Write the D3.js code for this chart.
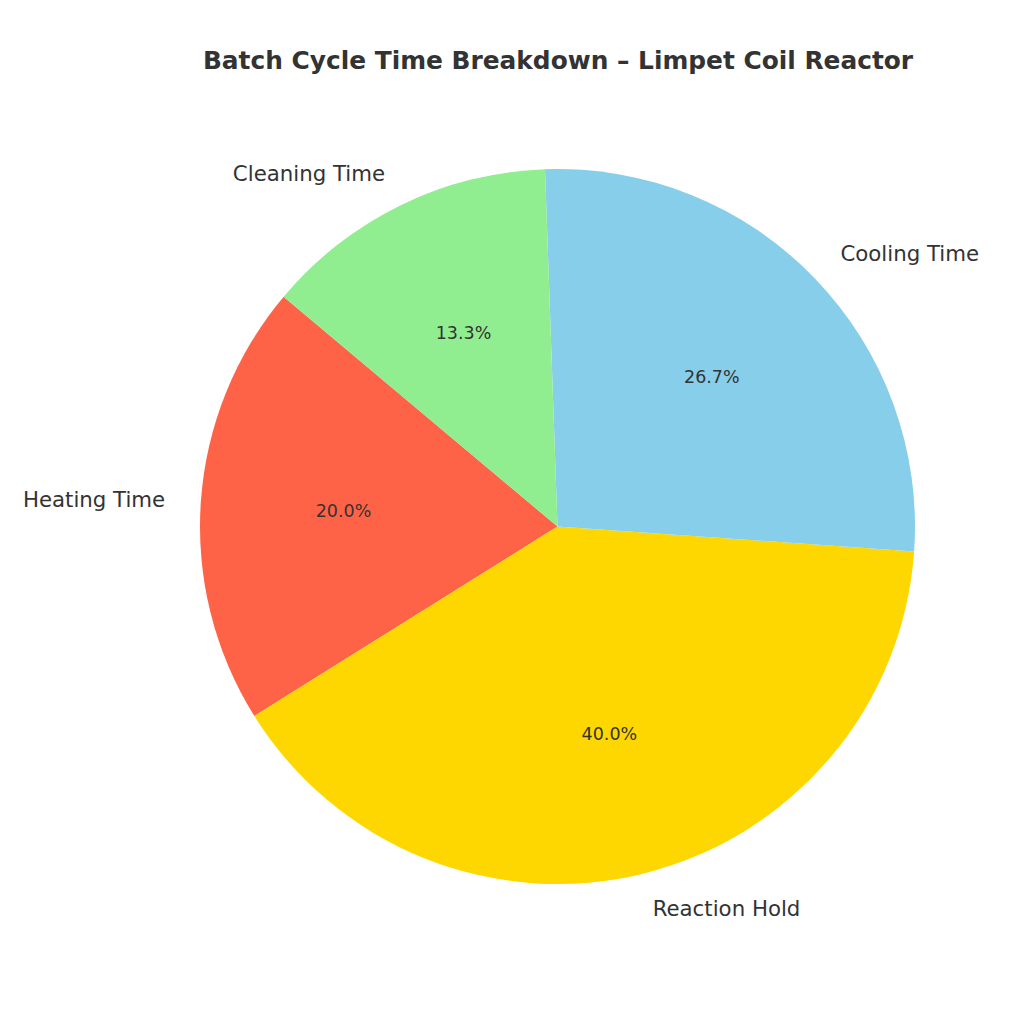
<!DOCTYPE html>
<html>
<head>
<meta charset="utf-8">
<script src="https://cdn.jsdelivr.net/npm/d3@7"></script>
<style>
  html, body { margin: 0; padding: 0; background: #ffffff; }
  text { font-family: 'DejaVu Sans', sans-serif; fill: #333333; }
</style>
</head>
<body>
<svg id="canvas" width="1024" height="1024"></svg>
<script>
// batch cycle in minutes
let categories = ['Heating Time', 'Reaction Hold', 'Cooling Time', 'Cleaning Time']
let minutes = [30, 60, 40, 20]
let sliceColors = ['#ff6347', '#ffd700', '#87ceeb', '#90ee90']

let cx = 557.5
let cy = 526.5
let radius = 357.5

let canvas = d3.select('#canvas')

// matplotlib style: start at 140 deg, counter clockwise
let toRad = (deg) => deg * Math.PI / 180
let pie = d3.pie()
            .sort(null)
            .value((d) => d.value)
            .startAngle(toRad(90 - 140))
            .endAngle(toRad(90 - 140 - 360))

let rows = categories.map((name, i) => {
  return { name: name, value: minutes[i], color: sliceColors[i] }
})
let total = d3.sum(minutes)

let arcs = pie(rows)

let arc = d3.arc()
            .innerRadius(0)
            .outerRadius(radius)

let chart = canvas.append('g')
                  .attr('transform', 'translate(' + cx + ', ' + cy + ')')

chart.selectAll('path')
     .data(arcs)
     .enter()
     .append('path')
     .attr('d', arc)
     .attr('fill', (d) => d.data.color)

let pointAt = (d, k) => {
  let a = (d.startAngle + d.endAngle) / 2
  return [Math.sin(a) * radius * k, -Math.cos(a) * radius * k]
}

chart.selectAll('.label')
     .data(arcs)
     .enter()
     .append('text')
     .attr('class', 'label')
     .attr('x', (d) => pointAt(d, 1.1)[0])
     .attr('y', (d) => pointAt(d, 1.1)[1])
     .attr('text-anchor', (d) => pointAt(d, 1.1)[0] > 0 ? 'start' : 'end')
     .attr('dominant-baseline', 'central')
     .style('font-size', '21.3px')
     .text((d) => d.data.name)

chart.selectAll('.pct')
     .data(arcs)
     .enter()
     .append('text')
     .attr('class', 'pct')
     .attr('x', (d) => pointAt(d, 0.6)[0])
     .attr('y', (d) => pointAt(d, 0.6)[1] - 1)
     .attr('text-anchor', 'middle')
     .attr('dominant-baseline', 'central')
     .style('font-size', '17.5px')
     .text((d) => (d.data.value / total * 100).toFixed(1) + '%')

canvas.append('text')
      .attr('x', 558)
      .attr('y', 69)
      .attr('text-anchor', 'middle')
      .style('font-size', '24.85px')
      .style('font-weight', 'bold')
      .text('Batch Cycle Time Breakdown – Limpet Coil Reactor')
</script>
</body>
</html>
